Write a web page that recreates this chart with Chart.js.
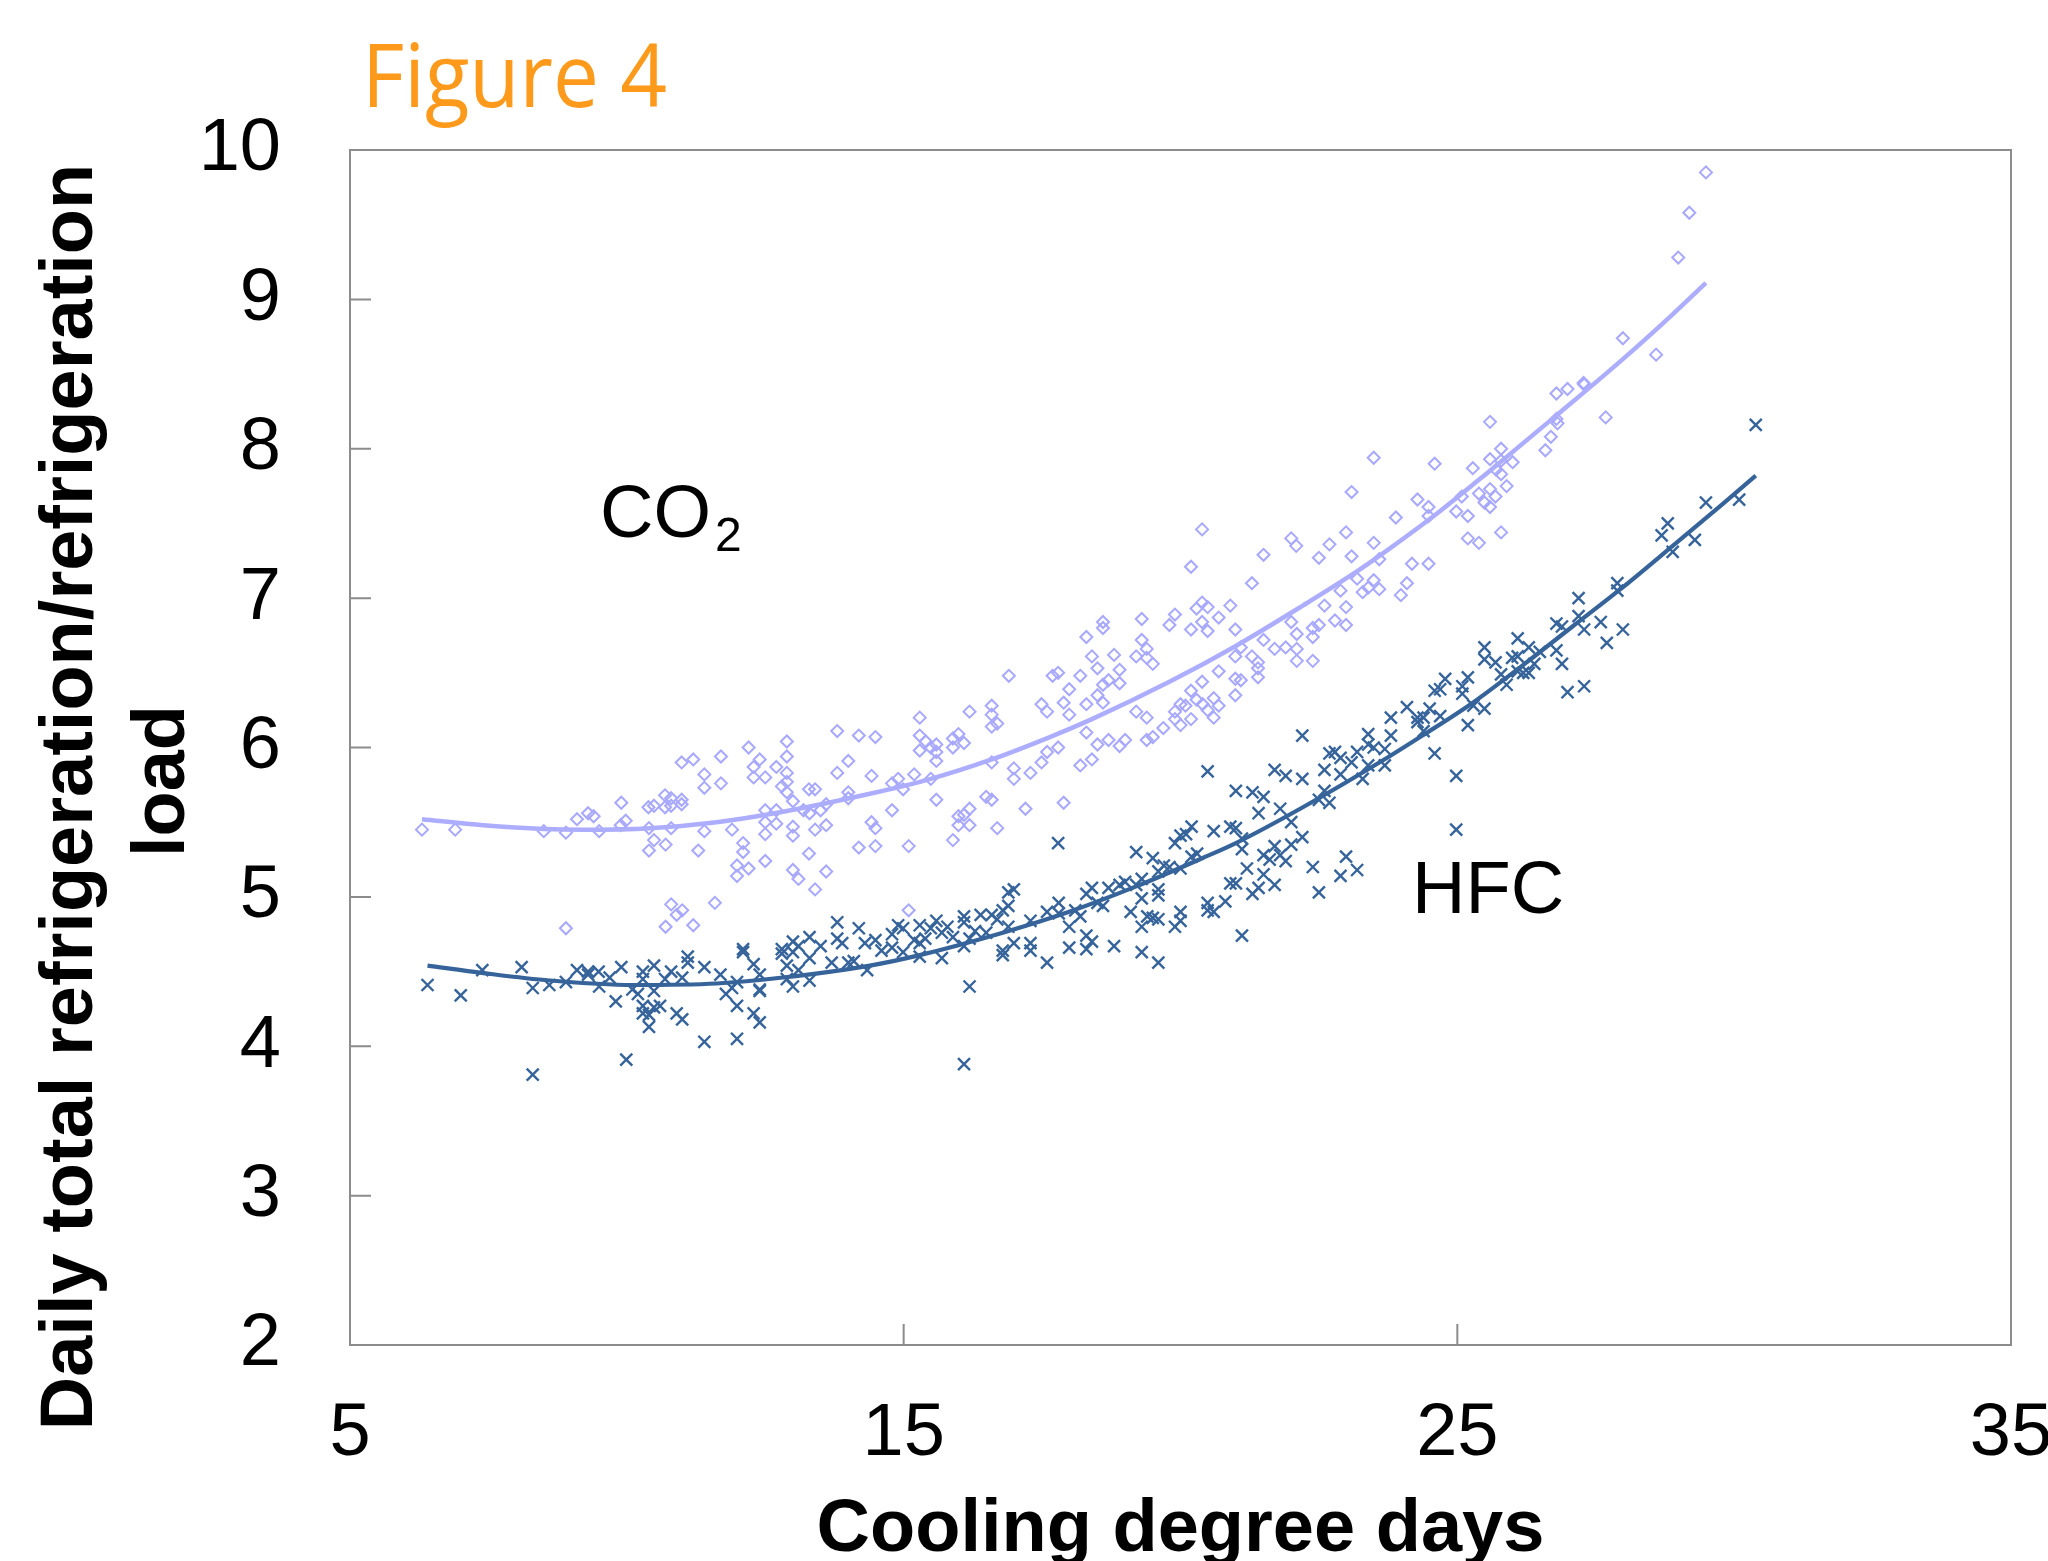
<!DOCTYPE html>
<html>
<head>
<meta charset="utf-8">
<title>Figure 4</title>
<script src="https://cdn.jsdelivr.net/npm/chart.js@4.4.1/dist/chart.umd.min.js"></script>
<style>
  html, body { margin: 0; padding: 0; background: #fff; overflow: hidden; }
  #chartCanvas { display: block; }
</style>
</head>
<body>
<canvas id="chartCanvas" width="2048" height="1561"></canvas>
<script>
// axis ticks
const xTickValues = [5, 15, 25, 35];
const yTickValues = [2, 3, 4, 5, 6, 7, 8, 9, 10];

// CO2 daily points [cooling degree days, load ratio]
const co2Points = [
  [6.30,5.45],[6.90,5.45],[8.50,5.44],[8.90,5.43],[9.10,5.52],[9.30,5.56],[9.40,5.54],[9.50,5.44],[8.90,4.79],
  [9.90,5.63],[9.98,5.51],[9.89,5.48],[10.39,5.60],[10.49,5.61],[10.40,5.46],[10.49,5.38],[10.40,5.31],
  [10.69,5.68],[10.69,5.60],[10.80,5.61],[10.80,5.66],[10.80,5.46],[10.70,5.35],[10.99,5.90],[10.99,5.65],
  [10.99,5.62],[11.20,5.92],[11.40,5.82],[11.40,5.73],[11.40,5.44],[11.29,5.31],[10.80,4.95],[10.90,4.88],
  [11.00,4.91],[10.70,4.80],[11.20,4.81],[11.59,4.96],[11.70,5.94],[11.70,5.76],[11.90,5.45],[12.10,5.36],
  [12.10,5.30],[11.99,5.21],[11.99,5.14],[12.20,5.19],[12.20,6.00],[12.29,5.87],[12.29,5.80],[12.40,5.92],
  [12.50,5.80],[12.50,5.58],[12.50,5.50],[12.50,5.42],[12.50,5.24],[12.70,5.87],[12.70,5.58],[12.70,5.49],
  [12.80,5.74],[12.89,6.04],[12.89,5.94],[12.89,5.83],[12.89,5.77],[12.89,5.70],[13.00,5.64],[13.00,5.47],
  [13.00,5.41],[13.00,5.18],[13.10,5.12],[13.19,5.58],[13.29,5.72],[13.40,5.72],[13.30,5.56],[13.29,5.29],
  [13.40,5.45],[13.40,5.05],[13.50,5.58],[13.60,5.48],[13.60,5.17],[13.60,5.62],[13.80,6.11],[13.80,5.83],
  [14.00,5.91],[14.00,5.70],[14.00,5.66],[14.19,6.08],[14.19,5.33],
  [14.42,5.81],[14.79,5.76],[14.90,5.79],[14.99,5.72],[15.19,5.82],[15.49,5.79],[15.59,5.65],[14.79,5.58],
  [14.49,5.46],[14.42,5.50],[14.49,5.34],[15.09,5.34],[15.09,4.91],[15.89,5.38],[15.99,5.54],[16.09,5.55],
  [16.19,5.59],[15.99,5.48],[16.19,5.48],[16.49,5.67],[16.59,5.65],[16.69,5.46],[16.99,5.79],[17.29,5.83],
  [17.20,5.59],[17.89,5.63],
  [14.49,6.07],[15.29,6.20],[15.29,6.08],[15.29,5.98],[15.40,6.04],[15.49,6.00],[15.59,6.02],[15.59,5.97],
  [15.59,5.91],[15.89,6.06],[15.89,6.00],[15.99,6.09],[16.09,6.03],[16.19,6.24],[16.59,6.28],[16.59,6.22],
  [16.59,6.14],[16.69,6.16],[16.59,5.90],[16.90,6.48],[16.99,5.86],[17.49,6.29],[17.59,6.24],[17.59,5.97],
  [17.49,5.90],[17.69,6.48],[17.79,6.50],[17.79,6.00],[17.89,6.30],[17.99,6.39],[17.99,6.22],[18.19,6.48],
  [18.30,6.74],[18.30,6.29],[18.30,6.10],[18.19,5.88],[18.40,6.61],[18.40,5.92],[18.50,6.53],[18.50,6.35],
  [18.50,6.02],[18.60,6.84],[18.60,6.80],[18.60,6.42],[18.60,6.30],[18.70,6.45],[18.70,6.05],[18.80,6.62],
  [18.90,6.52],[18.90,6.43],[18.90,6.01],[19.00,6.05],[19.20,6.61],[19.20,6.24],[19.30,6.86],[19.30,6.72],
  [19.39,6.66],[19.39,6.60],[19.39,6.20],[19.39,6.05],[19.50,6.56],[19.50,6.07],[19.69,6.13],[19.80,6.82],
  [19.90,6.89],[19.90,6.24],[19.90,6.19],[20.00,6.29],[20.00,6.15],[20.09,6.28],[20.19,7.21],[20.19,6.79],
  [20.19,6.38],[20.19,6.19],[20.29,6.93],[20.29,6.32],[20.39,7.46],[20.39,6.97],[20.39,6.84],[20.39,6.44],
  [20.40,6.29],[20.49,6.94],[20.49,6.78],[20.49,6.25],[20.60,6.33],[20.60,6.20],[20.69,6.87],[20.69,6.51],
  [20.69,6.28],[20.90,6.95],[20.99,6.79],[20.99,6.61],[20.99,6.46],[20.99,6.35],[21.09,6.67],[21.09,6.45],
  [21.29,7.10],[21.29,6.61],[21.40,6.57],[21.40,6.53],[21.40,6.47],[21.50,7.29],[21.50,6.72],[21.70,6.66],
  [21.90,6.67],[22.00,7.40],[22.09,7.35],[22.00,6.84],[22.10,6.76],[22.10,6.66],[22.10,6.58],[22.39,6.74],
  [22.39,6.58],[22.39,6.80],[22.50,7.27],[22.50,6.82],[22.60,6.95],[22.69,7.36],[22.79,6.85],[22.89,7.05],
  [22.99,7.44],[22.99,6.94],[22.99,6.82],[23.09,7.71],[23.09,7.28],[23.19,7.13],[23.29,7.04],[23.39,7.07],
  [23.49,7.94],[23.49,7.37],[23.49,7.12],[23.59,7.26],[23.59,7.06],
  [29.49,9.85],[29.19,9.58],[28.99,9.28],[27.99,8.74],[28.59,8.63],[26.79,8.37],[26.99,8.40],[27.28,8.44],
  [27.29,8.43],[26.79,8.20],[26.81,8.17],[27.68,8.21],[26.69,8.08],[26.59,7.99],[25.59,8.18],[25.79,8.00],
  [25.59,7.93],[26.00,7.91],[25.79,7.92],[25.70,7.86],[25.79,7.83],[25.89,7.75],[25.59,7.73],[25.69,7.68],
  [25.49,7.64],[25.59,7.61],[25.39,7.70],[25.28,7.87],[25.19,7.55],[25.08,7.68],[24.98,7.58],[25.19,7.40],
  [25.39,7.37],[25.79,7.44],[24.59,7.90],[24.28,7.66],[24.48,7.61],[24.48,7.55],[23.89,7.54],[24.18,7.23],
  [24.48,7.23],[23.98,7.02],[24.09,7.10]
];

// HFC daily points [cooling degree days, load ratio]
const hfcPoints = [
  [6.40,4.41],[7.00,4.34],[7.39,4.51],[8.10,4.53],[8.30,4.39],[8.30,3.81],[8.60,4.41],[8.90,4.43],[9.10,4.51],
  [9.30,4.48],[9.30,4.50],[9.49,4.50],[9.50,4.40],[9.69,4.46],[9.80,4.30],[9.90,4.53],[9.99,3.91],[10.10,4.38],
  [10.20,4.35],[10.29,4.50],[10.29,4.45],[10.29,4.27],[10.29,4.22],[10.40,4.21],[10.40,4.13],[10.49,4.54],
  [10.49,4.37],[10.49,4.26],[10.60,4.27],[10.69,4.45],[10.80,4.50],[10.90,4.22],[11.00,4.18],[11.00,4.46],
  [11.10,4.60],[11.10,4.56],[11.40,4.53],[11.40,4.03],[11.69,4.48],[11.79,4.35],[11.90,4.39],[11.99,4.43],
  [11.99,4.27],[11.99,4.05],[12.10,4.65],[12.10,4.63],[12.29,4.55],[12.29,4.22],[12.40,4.48],[12.40,4.38],
  [12.40,4.37],[12.40,4.16],[12.80,4.65],[12.80,4.62],[12.89,4.54],[12.89,4.45],[13.00,4.70],[13.00,4.63],
  [13.00,4.40],[13.10,4.67],[13.10,4.51],[13.30,4.73],[13.30,4.59],[13.30,4.44],[13.50,4.67],[13.70,4.56],
  [13.80,4.83],[13.80,4.72],[13.89,4.69],[14.00,4.56],[14.10,4.57],[14.19,4.79],[14.30,4.69],[14.34,4.51],
  [14.49,4.71],[14.60,4.64],[14.79,4.66],[14.79,4.75],[14.90,4.81],[14.99,4.79],[14.99,4.63],[15.19,4.71],
  [15.29,4.81],[15.29,4.69],[15.29,4.60],[15.39,4.72],[15.49,4.79],[15.59,4.84],[15.69,4.76],[15.69,4.59],
  [15.79,4.80],[15.89,4.73],[16.09,4.87],[16.09,4.83],[16.09,4.67],[16.19,4.72],[16.19,4.40],[16.09,3.88],
  [16.29,4.77],[16.39,4.88],[16.49,4.76],[16.59,4.88],[16.69,4.85],[16.79,4.91],[16.89,4.94],[16.89,5.03],
  [16.99,5.05],[16.89,4.80],[16.79,4.64],[16.79,4.61],[16.99,4.69],[17.29,4.84],[17.29,4.69],[17.29,4.64],
  [17.59,4.90],[17.59,4.56],[17.80,4.96],[17.80,4.89],[17.79,5.36],[17.99,4.80],[17.99,4.66],[18.10,4.91],
  [18.19,4.87],[18.30,5.02],[18.30,4.74],[18.30,4.65],[18.40,5.06],[18.40,4.70],[18.50,4.96],[18.60,4.94],
  [18.70,5.06],[18.80,4.67],[18.90,5.08],[19.00,5.10],[19.10,4.90],[19.20,5.30],[19.20,5.08],[19.30,5.12],
  [19.30,4.99],[19.30,4.80],[19.30,4.63],[19.40,4.87],[19.50,5.26],[19.50,4.86],[19.60,5.17],[19.60,5.05],
  [19.60,5.01],[19.60,4.85],[19.60,4.56],[19.70,5.21],[19.80,5.20],[19.90,5.36],[19.90,4.80],[20.00,5.41],
  [20.00,5.19],[20.00,4.90],[20.00,4.84],[20.10,5.42],[20.20,5.47],[20.20,5.27],[20.30,5.29],[20.49,4.96],
  [20.49,4.91],[20.60,4.90],[20.60,5.44],[20.49,5.84],[20.81,4.97],[20.90,5.47],[20.90,5.09],[21.00,5.46],
  [21.00,5.71],[21.00,5.09],[21.11,5.39],[21.11,5.32],[21.11,4.74],[21.20,5.19],[21.30,5.70],[21.30,5.02],
  [21.41,5.56],[21.41,5.06],[21.50,5.67],[21.50,5.28],[21.50,5.15],[21.61,5.25],[21.70,5.34],[21.70,5.08],
  [21.70,5.85],[21.80,5.59],[21.80,5.28],[21.90,5.81],[21.90,5.24],[22.00,5.50],[22.00,5.35],[22.20,5.79],
  [22.20,5.40],[22.39,5.20],[22.50,5.03],[22.50,5.65],[22.60,5.85],[22.60,5.71],[22.69,5.63],[22.69,5.96],
  [22.79,5.97],[22.89,5.93],[22.89,5.82],[22.89,5.14],[22.99,5.27],[23.09,5.90],[23.19,5.18],[23.19,5.97],
  [23.29,5.79],[23.39,5.88],[23.39,6.02],[23.49,6.00],[23.69,5.88],[23.69,5.99],[22.20,6.08],[23.39,6.09],
  [30.39,8.16],[30.09,7.66],[29.49,7.64],[29.29,7.39],[28.89,7.31],[28.80,7.50],[28.69,7.42],[27.89,7.10],
  [27.89,7.05],[27.99,6.79],[27.70,6.70],[27.59,6.84],[27.19,7.00],[27.19,6.88],[27.29,6.79],[26.89,6.81],
  [26.79,6.83],[26.79,6.65],[26.89,6.56],[26.99,6.37],[27.29,6.41],[26.49,6.64],[26.39,6.56],[26.29,6.67],
  [26.29,6.50],[26.19,6.50],[26.09,6.73],[26.09,6.61],[25.99,6.60],[26.09,6.51],[25.89,6.42],[25.79,6.49],
  [25.69,6.57],[25.49,6.67],[25.49,6.59],[25.29,6.28],[25.49,6.26],[25.19,6.47],[25.19,6.15],[25.09,6.41],
  [25.09,6.36],[24.98,5.81],[24.98,5.45],[24.78,6.46],[24.69,6.39],[24.69,6.21],[24.59,6.38],[24.59,5.96],
  [24.50,6.26],[24.39,6.11],[24.39,6.20],[24.28,6.17],[24.28,6.20],[24.09,6.27],[23.80,6.20],[23.80,6.08]
];

// trend curves
const co2TrendX = [6.30, 7.41, 8.50, 9.21, 10.42, 11.62, 12.82, 14.39, 15.49, 16.59, 17.64, 18.40, 19.80, 21.00, 22.21, 23.11, 23.77, 24.68, 25.58, 26.78, 27.99, 28.89, 29.49];
const co2TrendY = [5.52, 5.48, 5.455, 5.45, 5.46, 5.50, 5.57, 5.69, 5.79, 5.92, 6.07, 6.19, 6.44, 6.68, 6.95, 7.16, 7.33, 7.58, 7.85, 8.22, 8.60, 8.90, 9.11];
const hfcTrendX = [6.40, 7.41, 8.61, 10.11, 11.62, 12.82, 14.39, 15.29, 16.79, 17.99, 19.20, 20.40, 21.00, 22.21, 23.77, 24.37, 25.28, 26.18, 27.08, 27.98, 28.89, 29.79, 30.39];
const hfcTrendY = [4.54, 4.49, 4.44, 4.41, 4.42, 4.46, 4.54, 4.61, 4.76, 4.90, 5.07, 5.26, 5.36, 5.60, 5.94, 6.08, 6.30, 6.55, 6.81, 7.07, 7.35, 7.63, 7.82];

const CO2_COLOR = '#a8a8ff';
const HFC_COLOR = '#36649a';
const AXIS_COLOR = '#8c8c8c';
const FONT = '"Liberation Sans", Arial, sans-serif';

function toXY(pairs) {
  return pairs.map(p => ({ x: p[0], y: p[1] }));
}

function zipXY(xs, ys) {
  return xs.map((x, i) => ({ x, y: ys[i] }));
}

// frame, inward tick marks and all the free text
const framePlugin = {
  id: 'frame',
  beforeDatasetsDraw(chart) {
    const { ctx, chartArea: a, scales: { x, y } } = chart;
    ctx.save();
    ctx.strokeStyle = AXIS_COLOR;
    ctx.lineWidth = 2;
    ctx.strokeRect(a.left, a.top, a.right - a.left, a.bottom - a.top);
    ctx.beginPath();
    yTickValues.forEach(v => {
      const py = y.getPixelForValue(v);
      ctx.moveTo(a.left, py);
      ctx.lineTo(a.left + 21, py);
    });
    xTickValues.forEach(v => {
      const px = x.getPixelForValue(v);
      ctx.moveTo(px, a.bottom);
      ctx.lineTo(px, a.bottom - 21);
    });
    ctx.stroke();
    ctx.restore();
  },
  afterDraw(chart) {
    const { ctx, chartArea: a } = chart;
    ctx.save();

    // figure caption
    ctx.fillStyle = '#fd9a1c';
    ctx.font = '88px "Open Sans", "Noto Sans", sans-serif';
    ctx.textBaseline = 'alphabetic';
    ctx.textAlign = 'left';
    const cap = 'Figure 4';
    const capW = ctx.measureText(cap).width;
    ctx.save();
    ctx.translate(362, 107);
    ctx.scale(305 / capW, 1);
    ctx.fillText(cap, 0, 0);
    ctx.restore();

    ctx.fillStyle = '#000';

    // y axis title, two lines
    ctx.font = 'bold 74px ' + FONT;
    ctx.textAlign = 'center';
    ctx.save();
    ctx.translate(92, 797);
    ctx.rotate(-Math.PI / 2);
    ctx.fillText('Daily total refrigeration/refrigeration', 0, 0);
    ctx.restore();
    ctx.save();
    ctx.translate(184, 781);
    ctx.rotate(-Math.PI / 2);
    ctx.fillText('load', 0, 0);
    ctx.restore();

    // x axis title
    ctx.fillText('Cooling degree days', (a.left + a.right) / 2, 1551);

    // series labels
    ctx.textAlign = 'left';
    ctx.font = '74px ' + FONT;
    ctx.fillText('CO', 600, 537);
    const coW = ctx.measureText('CO').width;
    ctx.font = '48px ' + FONT;
    ctx.fillText('2', 600 + coW + 4, 551);
    ctx.font = '74px ' + FONT;
    ctx.fillText('HFC', 1412, 913);

    ctx.restore();
  }
};

const canvas = document.getElementById('chartCanvas');
const ctx = canvas.getContext('2d');

const chart = new Chart(ctx, {
  type: 'scatter',
  data: {
    datasets: [
      {
        label: 'CO2 trend',
        data: zipXY(co2TrendX, co2TrendY),
        showLine: true,
        borderColor: '#adadff',
        borderWidth: 4.5,
        pointRadius: 0,
        cubicInterpolationMode: 'monotone',
        fill: false
      },
      {
        label: 'HFC trend',
        data: zipXY(hfcTrendX, hfcTrendY),
        showLine: true,
        borderColor: HFC_COLOR,
        borderWidth: 4.2,
        pointRadius: 0,
        cubicInterpolationMode: 'monotone',
        fill: false
      },
      {
        label: 'HFC',
        data: toXY(hfcPoints),
        pointStyle: 'crossRot',
        pointRadius: 8.5,
        pointBorderWidth: 2.4,
        borderColor: HFC_COLOR,
        backgroundColor: HFC_COLOR
      },
      {
        label: 'CO2',
        data: toXY(co2Points),
        pointStyle: 'rectRot',
        pointRadius: 6,
        pointBorderWidth: 2,
        borderColor: CO2_COLOR,
        backgroundColor: 'rgba(255,255,255,0)'
      }
    ]
  },
  options: {
    responsive: false,
    animation: false,
    events: [],
    layout: { padding: { left: 0, right: 37, top: 150, bottom: 0 } },
    plugins: {
      legend: { display: false },
      title: { display: false },
      tooltip: { enabled: false }
    },
    scales: {
      x: {
        type: 'linear',
        min: 5,
        max: 35,
        afterBuildTicks: s => { s.ticks = xTickValues.map(v => ({ value: v })); },
        afterFit: s => { s.height = 216; s.paddingLeft = 0; s.paddingRight = 0; },
        ticks: { color: '#000', padding: 45, maxRotation: 0, font: { family: FONT, size: 74 } },
        grid: { display: false, drawTicks: false },
        border: { display: false }
      },
      y: {
        type: 'linear',
        min: 2,
        max: 10,
        afterBuildTicks: s => { s.ticks = yTickValues.map(v => ({ value: v })); },
        afterFit: s => { s.width = 350; s.paddingTop = 0; s.paddingBottom = 0; },
        ticks: { color: '#000', padding: 69, font: { family: FONT, size: 74 } },
        grid: { display: false, drawTicks: false },
        border: { display: false }
      }
    }
  },
  plugins: [framePlugin]
});
</script>
</body>
</html>
